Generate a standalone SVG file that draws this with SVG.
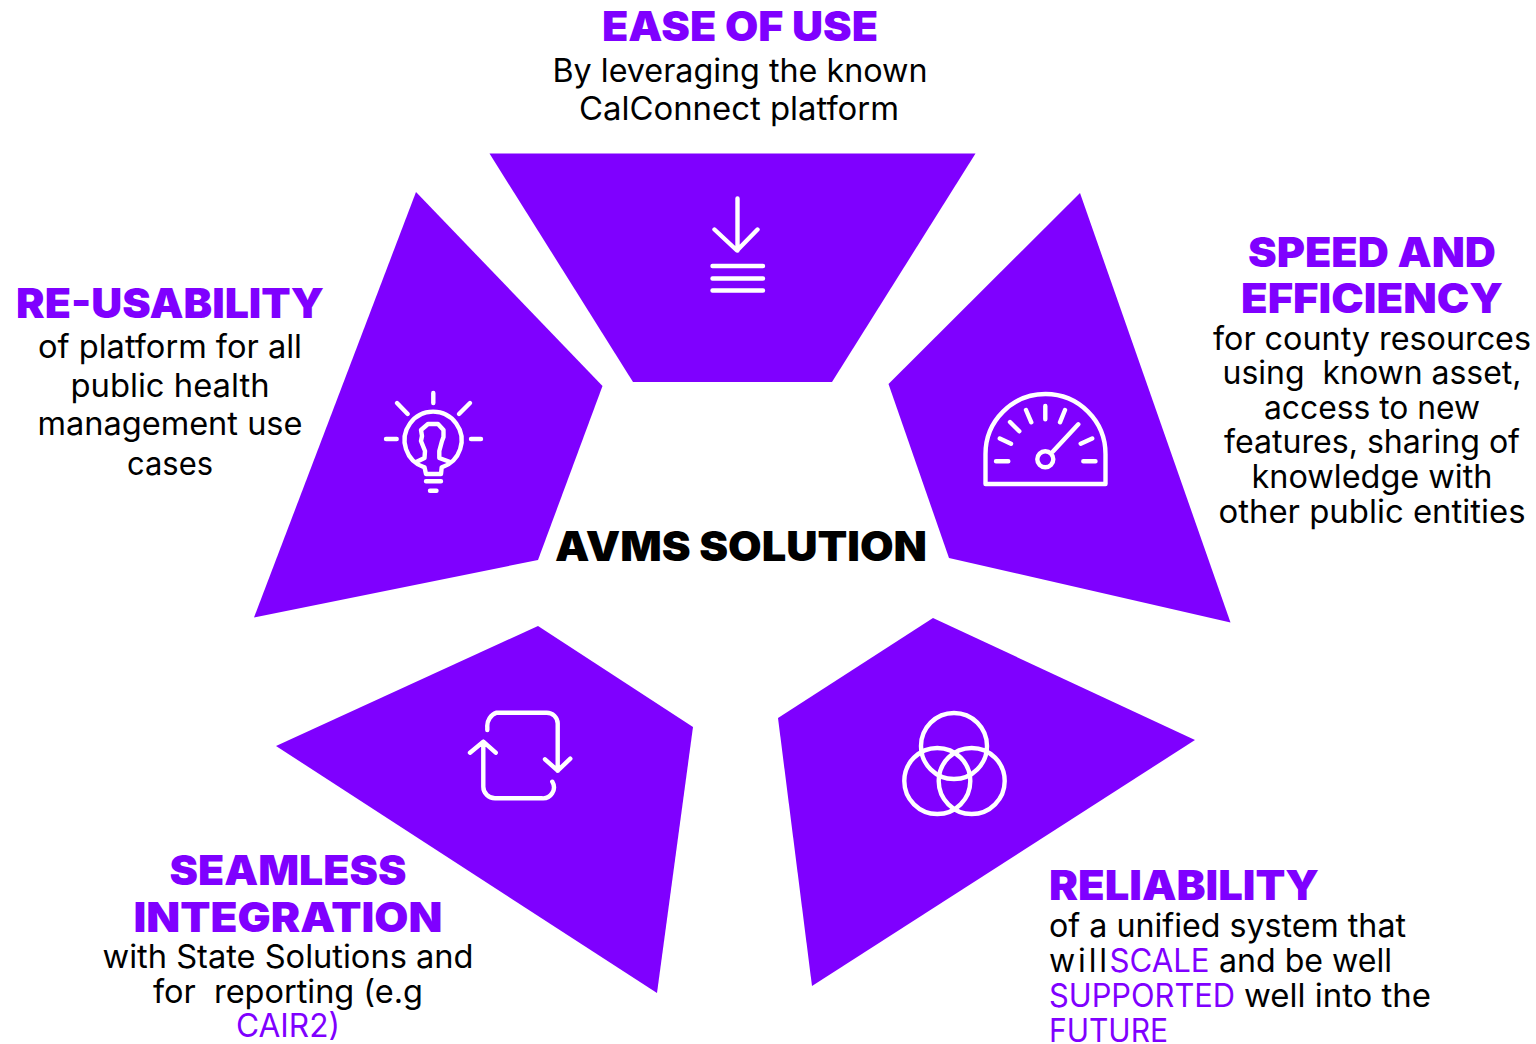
<svg xmlns="http://www.w3.org/2000/svg" width="1536" height="1044" viewBox="0 0 1536 1044">
<style>
text{font-family:"Inter","Liberation Sans",sans-serif}
.h{font-size:41px;font-weight:900;fill:#7f00ff;text-anchor:middle}
.b{font-size:32px;font-weight:400;fill:#000;text-anchor:middle}
.l{text-anchor:start}
.p{fill:#7f00ff}
.s{fill:#7f00ff}
.i{fill:none;stroke:#fff;stroke-width:4.4;stroke-linecap:round;stroke-linejoin:round}
.c{font-size:41px;font-weight:900;fill:#000;text-anchor:middle}
</style>
<rect width="1536" height="1044" fill="#fff"/>
<g id="center"><text class="c" x="741" y="561" textLength="372" lengthAdjust="spacingAndGlyphs">AVMS SOLUTION</text></g>
<g id="ease-of-use">
<polygon class="p" points="489.5,153.5 975.5,153.5 832,382 633,382"/>
<path class="i" d="M737.5,198.5V250.5M714.5,229.5L737,250.5L757.5,229.5M712.5,266H763M712.5,278.5H763M712.5,290.5H763"/>
<text class="h" x="740" y="41" textLength="276" lengthAdjust="spacingAndGlyphs">EASE OF USE</text>
<text class="b" x="740" y="82" textLength="375" lengthAdjust="spacingAndGlyphs">By leveraging the known</text>
<text class="b" x="739" y="120" textLength="320" lengthAdjust="spacingAndGlyphs">CalConnect platform</text>
</g>
<g id="speed-and-efficiency">
<polygon class="p" points="1080,193 1230.5,622.5 949,558 888.5,384"/>
<path class="i" d="M985.5,484H1105.5V454A60,60 0 0 0 985.5,454ZM996,461.3H1008.3M1083.3,461.3H1095.5M999.8,438.5L1011,443.7M1092.2,438.5L1080.7,443.7M1010,422L1019.3,431.3M1026,410L1031.3,422.3M1045.3,406V419.3M1065,410L1060,422.3M1078.3,424.3L1052.7,451.7"/>
<circle class="i" cx="1045.3" cy="459.3" r="8"/>
<text class="h" x="1372" y="267" textLength="248" lengthAdjust="spacingAndGlyphs">SPEED AND</text>
<text class="h" x="1372" y="313" textLength="262" lengthAdjust="spacingAndGlyphs">EFFICIENCY</text>
<text class="b" x="1372" y="350" textLength="318" lengthAdjust="spacingAndGlyphs">for county resources</text>
<text class="b" x="1372" y="384" textLength="299" lengthAdjust="spacingAndGlyphs" xml:space="preserve">using  known asset,</text>
<text class="b" x="1372" y="419" textLength="216" lengthAdjust="spacingAndGlyphs">access to new</text>
<text class="b" x="1372" y="453" textLength="296" lengthAdjust="spacingAndGlyphs">features, sharing of</text>
<text class="b" x="1372" y="488" textLength="241" lengthAdjust="spacingAndGlyphs">knowledge with</text>
<text class="b" x="1372" y="523" textLength="307" lengthAdjust="spacingAndGlyphs">other public entities</text>
</g>
<g id="reliability">
<polygon class="p" points="933,618 1195,740 812,986 778,718"/>
<g class="i"><circle cx="954" cy="746" r="33"/><circle cx="937.3" cy="781" r="33"/><circle cx="971.7" cy="781" r="33"/></g>
<text class="h l" x="1049" y="900" textLength="270" lengthAdjust="spacingAndGlyphs">RELIABILITY</text>
<text class="b l" x="1049" y="937" textLength="357" lengthAdjust="spacingAndGlyphs">of a unified system that</text>
<text class="b l" x="1049" y="972" textLength="58">will</text>
<text class="b l s" x="1109.5" y="972" textLength="100" lengthAdjust="spacingAndGlyphs">SCALE</text>
<text class="b l" x="1219" y="972" textLength="173" lengthAdjust="spacingAndGlyphs">and be well</text>
<text class="b l s" x="1049" y="1007" textLength="186" lengthAdjust="spacingAndGlyphs">SUPPORTED</text>
<text class="b l" x="1244" y="1007" textLength="187" lengthAdjust="spacingAndGlyphs">well into the</text>
<text class="b l s" x="1049" y="1042" textLength="119" lengthAdjust="spacingAndGlyphs">FUTURE</text>
</g>
<g id="seamless-integration">
<polygon class="p" points="538,626 693,727 657,993 276,746"/>
<path class="i" d="M487.3,730V727A14,14 0 0 1 496.7,712.7H546.7A11,11 0 0 1 557.7,723.3V770.7M545,759.3L557.7,770.7L570.3,758.7M483.3,741.7V786.7A11.7,11.7 0 0 0 495,798.3H541.7A11,11 0 0 0 552.3,781.7M470,752.7L483.3,741.7L495.7,752.7"/>
<text class="h" x="288" y="885" textLength="237" lengthAdjust="spacingAndGlyphs">SEAMLESS</text>
<text class="h" x="288" y="932" textLength="309" lengthAdjust="spacingAndGlyphs">INTEGRATION</text>
<text class="b" x="288" y="968" textLength="371" lengthAdjust="spacingAndGlyphs">with State Solutions and</text>
<text class="b" x="288" y="1003" textLength="270" lengthAdjust="spacingAndGlyphs" xml:space="preserve">for  reporting (e.g</text>
<text class="b s" x="288" y="1037" textLength="104" lengthAdjust="spacingAndGlyphs">CAIR2)</text>
</g>
<g id="re-usability">
<polygon class="p" points="416,192 602.5,386 538,560 254,617.5"/>
<path class="i" d="M433.3,393V403M397,403L407.7,414M470,403L459,414M386,439H396.7M471,439H481M426,481.3H441M430,490.7H436.5"/>
<path class="i" d="M424.5,467.3A28.5,28.5 0 1 1 441.7,467.3L441,474H426ZM416.7,461.7L424.5,458L425,451L421,441L422,436L421,430L428,424H438L443.5,430V437L442,441L439.3,451V458L449.5,461.7"/>
<text class="h" x="170" y="318" textLength="308" lengthAdjust="spacingAndGlyphs">RE-USABILITY</text>
<text class="b" x="170" y="358" textLength="264" lengthAdjust="spacingAndGlyphs">of platform for all</text>
<text class="b" x="170" y="397" textLength="199" lengthAdjust="spacingAndGlyphs">public health</text>
<text class="b" x="170" y="435" textLength="265" lengthAdjust="spacingAndGlyphs">management use</text>
<text class="b" x="170" y="475" textLength="86" lengthAdjust="spacingAndGlyphs">cases</text>
</g>
</svg>
